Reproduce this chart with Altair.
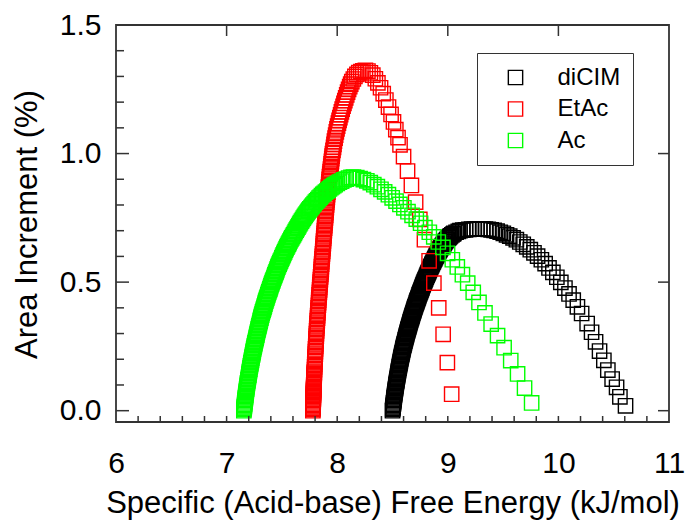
import altair as alt
import pandas as pd

# (free energy kJ/mol, area increment %) for each probe
dicim = [
    (8.500, 0.000), (8.502, 0.005), (8.503, 0.010), (8.505, 0.015), (8.506, 0.020), (8.508, 0.025),
    (8.509, 0.030), (8.511, 0.035), (8.512, 0.040), (8.514, 0.045), (8.515, 0.050),
    (8.517, 0.055), (8.518, 0.060), (8.520, 0.065), (8.522, 0.070), (8.524, 0.075), (8.525, 0.080),
    (8.527, 0.085), (8.529, 0.090), (8.530, 0.095), (8.532, 0.100), (8.534, 0.105), (8.536, 0.110),
    (8.538, 0.115), (8.540, 0.120), (8.542, 0.125), (8.544, 0.130), (8.546, 0.135), (8.548, 0.140),
    (8.550, 0.145), (8.552, 0.150), (8.554, 0.155), (8.556, 0.160), (8.559, 0.165), (8.561, 0.170),
    (8.563, 0.175), (8.565, 0.180), (8.567, 0.185), (8.570, 0.190), (8.572, 0.195), (8.574, 0.200),
    (8.577, 0.205), (8.579, 0.210), (8.582, 0.215), (8.584, 0.220), (8.587, 0.225), (8.590, 0.230),
    (8.592, 0.235), (8.595, 0.240), (8.597, 0.245), (8.600, 0.250), (8.603, 0.255), (8.606, 0.260),
    (8.609, 0.265), (8.612, 0.270), (8.615, 0.275), (8.618, 0.280), (8.621, 0.285), (8.624, 0.290),
    (8.627, 0.295), (8.630, 0.300), (8.633, 0.305), (8.636, 0.309), (8.639, 0.314), (8.642, 0.318),
    (8.645, 0.323), (8.648, 0.327), (8.651, 0.332), (8.654, 0.336), (8.657, 0.341), (8.660, 0.345),
    (8.663, 0.350), (8.666, 0.354), (8.670, 0.359), (8.673, 0.363), (8.676, 0.368), (8.679, 0.372),
    (8.683, 0.377), (8.686, 0.381), (8.690, 0.386), (8.693, 0.390), (8.696, 0.395), (8.700, 0.400),
    (8.703, 0.404), (8.707, 0.409), (8.711, 0.413), (8.715, 0.418), (8.718, 0.422), (8.722, 0.427),
    (8.725, 0.431), (8.730, 0.436), (8.733, 0.440), (8.737, 0.445), (8.741, 0.450), (8.745, 0.454),
    (8.749, 0.459), (8.753, 0.463), (8.757, 0.468), (8.761, 0.472), (8.765, 0.477), (8.768, 0.481),
    (8.773, 0.486), (8.777, 0.490), (8.781, 0.495), (8.786, 0.500), (8.790, 0.504), (8.795, 0.509),
    (8.799, 0.513), (8.804, 0.518), (8.808, 0.522), (8.813, 0.527), (8.817, 0.531), (8.822, 0.536),
    (8.826, 0.540), (8.831, 0.545), (8.836, 0.550), (8.841, 0.554), (8.846, 0.559), (8.851, 0.563),
    (8.856, 0.568), (8.860, 0.572), (8.866, 0.577), (8.871, 0.581), (8.877, 0.586), (8.882, 0.590),
    (8.887, 0.595), (8.893, 0.600), (8.898, 0.604), (8.903, 0.608), (8.909, 0.612), (8.914, 0.616),
    (8.919, 0.620), (8.924, 0.624), (8.928, 0.627), (8.932, 0.630), (8.938, 0.634), (8.943, 0.637),
    (8.950, 0.641), (8.954, 0.644), (8.961, 0.648), (8.966, 0.651), (8.972, 0.655), (8.977, 0.658),
    (8.980, 0.660), (8.989, 0.664), (8.996, 0.667), (9.005, 0.671), (9.011, 0.674), (9.018, 0.677),
    (9.025, 0.680), (9.037, 0.684), (9.049, 0.688), (9.055, 0.690), (9.075, 0.694), (9.095, 0.697),
    (9.110, 0.700), (9.135, 0.702), (9.160, 0.703), (9.190, 0.705), (9.215, 0.706), (9.240, 0.706),
    (9.265, 0.707), (9.290, 0.707),
    (9.315, 0.707), (9.340, 0.706), (9.366, 0.705), (9.392, 0.703), (9.419, 0.701), (9.446, 0.698),
    (9.474, 0.694), (9.502, 0.690), (9.531, 0.684), (9.560, 0.679), (9.590, 0.672), (9.620, 0.665),
    (9.651, 0.656), (9.682, 0.647), (9.714, 0.637), (9.746, 0.626), (9.779, 0.614), (9.812, 0.601),
    (9.846, 0.587), (9.880, 0.572), (9.915, 0.555), (9.950, 0.538), (9.986, 0.519), (10.022, 0.499),
    (10.059, 0.477), (10.096, 0.454), (10.134, 0.430), (10.172, 0.404), (10.210, 0.378),
    (10.260, 0.339), (10.300, 0.305), (10.336, 0.268), (10.372, 0.232), (10.411, 0.196),
    (10.447, 0.158), (10.486, 0.123), (10.526, 0.091), (10.556, 0.054), (10.607, 0.019),
]

etac = [
    (7.780, 0.000), (7.780, 0.005), (7.781, 0.010), (7.781, 0.015), (7.782, 0.020), (7.782, 0.025),
    (7.782, 0.030), (7.783, 0.035), (7.783, 0.040), (7.784, 0.045), (7.784, 0.050), (7.784, 0.055),
    (7.785, 0.060), (7.785, 0.065), (7.786, 0.070), (7.786, 0.075), (7.786, 0.080), (7.787, 0.085),
    (7.787, 0.090), (7.788, 0.095), (7.788, 0.100), (7.789, 0.105), (7.789, 0.110), (7.790, 0.115),
    (7.790, 0.120), (7.791, 0.125), (7.791, 0.130), (7.792, 0.135), (7.792, 0.140), (7.793, 0.145),
    (7.793, 0.150), (7.795, 0.160), (7.796, 0.170), (7.797, 0.180), (7.798, 0.190), (7.799, 0.200),
    (7.800, 0.210), (7.802, 0.220), (7.803, 0.230), (7.804, 0.240), (7.806, 0.250), (7.807, 0.260),
    (7.808, 0.270), (7.809, 0.280), (7.811, 0.290), (7.812, 0.300), (7.814, 0.310), (7.815, 0.320),
    (7.817, 0.330), (7.818, 0.340), (7.820, 0.350), (7.822, 0.360), (7.823, 0.370), (7.825, 0.380),
    (7.826, 0.390), (7.828, 0.400), (7.830, 0.410), (7.832, 0.420), (7.833, 0.430), (7.835, 0.440),
    (7.837, 0.450), (7.839, 0.460), (7.841, 0.470), (7.842, 0.480), (7.844, 0.490), (7.846, 0.500),
    (7.848, 0.510), (7.850, 0.520), (7.852, 0.530), (7.854, 0.540), (7.856, 0.550), (7.857, 0.560),
    (7.859, 0.570), (7.861, 0.580), (7.863, 0.590), (7.865, 0.600), (7.867, 0.610), (7.869, 0.620),
    (7.871, 0.630), (7.873, 0.640), (7.875, 0.650), (7.876, 0.660), (7.878, 0.670), (7.880, 0.680),
    (7.882, 0.690), (7.884, 0.700), (7.886, 0.710), (7.888, 0.720), (7.890, 0.730), (7.892, 0.740),
    (7.894, 0.750), (7.896, 0.760), (7.898, 0.770), (7.900, 0.780), (7.902, 0.790), (7.904, 0.800),
    (7.906, 0.810), (7.909, 0.820), (7.911, 0.830), (7.913, 0.840), (7.916, 0.850), (7.918, 0.860),
    (7.920, 0.870), (7.923, 0.880), (7.925, 0.890), (7.927, 0.900), (7.930, 0.910), (7.933, 0.920),
    (7.936, 0.930), (7.939, 0.940), (7.942, 0.950), (7.945, 0.960), (7.948, 0.970), (7.951, 0.980),
    (7.954, 0.990), (7.957, 1.000), (7.962, 1.012), (7.967, 1.024), (7.971, 1.036), (7.975, 1.048),
    (7.981, 1.060), (7.986, 1.072), (7.992, 1.084), (7.998, 1.096), (8.004, 1.107), (8.011, 1.118),
    (8.017, 1.129), (8.024, 1.140), (8.031, 1.151), (8.038, 1.162), (8.045, 1.173), (8.053, 1.184),
    (8.061, 1.195), (8.069, 1.206), (8.077, 1.217), (8.086, 1.228), (8.094, 1.239), (8.103, 1.250),
    (8.113, 1.260), (8.122, 1.270), (8.132, 1.280), (8.146, 1.290), (8.160, 1.300), (8.178, 1.308),
    (8.195, 1.315), (8.214, 1.319), (8.232, 1.322), (8.255, 1.324),
    (8.278, 1.321), (8.300, 1.314), (8.322, 1.305), (8.345, 1.291), (8.368, 1.275), (8.392, 1.256),
    (8.416, 1.233), (8.440, 1.208), (8.464, 1.181), (8.487, 1.152), (8.509, 1.123), (8.530, 1.093),
    (8.550, 1.062), (8.568, 1.034), (8.600, 0.988), (8.636, 0.932), (8.671, 0.876), (8.709, 0.811),
    (8.747, 0.744), (8.789, 0.665), (8.831, 0.583), (8.874, 0.496), (8.918, 0.400), (8.958, 0.297),
    (8.996, 0.187), (9.035, 0.064),
]

ac = [
    (7.156, 0.000), (7.157, 0.005), (7.159, 0.010), (7.160, 0.015), (7.162, 0.020), (7.163, 0.025),
    (7.164, 0.030), (7.166, 0.035), (7.167, 0.040), (7.169, 0.045), (7.170, 0.050), (7.172, 0.055),
    (7.173, 0.060), (7.175, 0.066), (7.177, 0.072), (7.179, 0.078), (7.181, 0.084), (7.183, 0.090),
    (7.185, 0.096), (7.187, 0.102), (7.189, 0.108), (7.192, 0.114), (7.194, 0.120), (7.196, 0.126),
    (7.199, 0.132), (7.201, 0.138), (7.203, 0.144), (7.205, 0.150), (7.208, 0.156), (7.210, 0.162),
    (7.212, 0.168), (7.215, 0.174), (7.218, 0.180), (7.220, 0.186), (7.223, 0.192), (7.226, 0.198),
    (7.228, 0.204), (7.231, 0.210), (7.234, 0.216), (7.237, 0.222), (7.239, 0.228), (7.242, 0.234),
    (7.245, 0.240), (7.248, 0.246), (7.251, 0.252), (7.254, 0.258), (7.257, 0.264), (7.260, 0.270),
    (7.264, 0.276), (7.267, 0.282), (7.270, 0.288), (7.273, 0.294), (7.276, 0.300), (7.279, 0.306),
    (7.283, 0.312), (7.286, 0.318), (7.289, 0.324), (7.293, 0.330), (7.296, 0.336), (7.300, 0.342),
    (7.303, 0.348), (7.306, 0.354), (7.310, 0.360), (7.313, 0.366), (7.317, 0.372), (7.321, 0.378),
    (7.325, 0.384), (7.330, 0.390), (7.334, 0.396), (7.338, 0.402), (7.342, 0.408), (7.346, 0.414),
    (7.350, 0.420), (7.354, 0.426), (7.359, 0.432), (7.363, 0.438), (7.368, 0.444), (7.373, 0.450),
    (7.377, 0.456), (7.382, 0.462), (7.387, 0.468), (7.392, 0.474), (7.396, 0.480), (7.401, 0.486),
    (7.406, 0.492), (7.411, 0.498), (7.416, 0.504), (7.421, 0.510), (7.427, 0.516), (7.432, 0.522),
    (7.437, 0.528), (7.442, 0.534), (7.448, 0.540), (7.453, 0.546), (7.458, 0.552), (7.463, 0.558),
    (7.469, 0.564), (7.475, 0.570), (7.481, 0.576), (7.487, 0.582), (7.494, 0.588), (7.500, 0.594),
    (7.506, 0.600), (7.512, 0.606), (7.518, 0.612), (7.525, 0.618), (7.531, 0.624), (7.538, 0.630),
    (7.545, 0.636), (7.552, 0.642), (7.559, 0.648), (7.566, 0.654), (7.573, 0.660), (7.581, 0.666),
    (7.589, 0.672), (7.597, 0.678), (7.605, 0.684), (7.613, 0.690), (7.621, 0.696), (7.629, 0.702),
    (7.637, 0.708), (7.645, 0.714), (7.653, 0.720), (7.661, 0.726), (7.668, 0.731), (7.677, 0.737),
    (7.686, 0.743), (7.694, 0.749), (7.703, 0.755), (7.711, 0.760), (7.719, 0.765), (7.728, 0.770),
    (7.736, 0.775), (7.744, 0.780), (7.753, 0.785), (7.763, 0.790), (7.772, 0.795), (7.781, 0.800),
    (7.792, 0.805), (7.803, 0.811), (7.814, 0.816), (7.825, 0.821), (7.836, 0.827), (7.847, 0.831),
    (7.858, 0.836), (7.870, 0.841), (7.882, 0.845), (7.894, 0.850), (7.906, 0.854), (7.918, 0.858),
    (7.930, 0.863), (7.943, 0.867), (7.956, 0.871), (7.969, 0.875), (7.982, 0.879), (8.001, 0.884),
    (8.020, 0.889), (8.040, 0.893), (8.060, 0.898), (8.081, 0.901), (8.103, 0.905), (8.125, 0.907),
    (8.147, 0.908), (8.177, 0.906), (8.207, 0.903), (8.237, 0.899), (8.268, 0.894),
    (8.299, 0.887), (8.331, 0.879), (8.363, 0.871), (8.396, 0.861), (8.429, 0.851), (8.463, 0.840),
    (8.497, 0.828), (8.532, 0.815), (8.567, 0.802), (8.603, 0.789), (8.640, 0.774), (8.677, 0.760),
    (8.715, 0.745), (8.754, 0.729), (8.793, 0.712), (8.833, 0.694), (8.873, 0.676), (8.914, 0.656),
    (8.956, 0.635), (8.998, 0.612), (9.041, 0.587), (9.086, 0.559), (9.132, 0.529), (9.180, 0.496),
    (9.230, 0.460), (9.282, 0.421), (9.336, 0.380), (9.392, 0.337), (9.450, 0.292), (9.509, 0.245),
    (9.569, 0.195), (9.631, 0.143), (9.694, 0.088), (9.758, 0.030),
]

series_names = ["diCIM", "EtAc", "Ac"]
series_colors = ["#000000", "#ff0000", "#00ff00"]

x_labels = [6, 7, 8, 9, 10, 11]
y_labels = [0.0, 0.5, 1.0, 1.5]
left_minor_ticks = [0.1, 0.2, 0.3, 0.4, 0.6, 0.7, 0.8, 0.9, 1.1, 1.2, 1.3, 1.4]
left_major_ticks = [0.0, 0.5, 1.0]
right_ticks = [0.0, 0.5, 1.0]
top_ticks = [7, 8, 9, 10]
bottom_ticks = [6.2, 6.4, 6.6, 6.8, 7.0, 7.2, 7.4, 7.6, 7.8, 8.0, 8.2, 8.4,
                8.6, 8.8, 9.0, 9.2, 9.4, 9.6, 9.8, 10.0, 10.2, 10.4, 10.6, 10.8]

rows = []
for name, pts in zip(series_names, [dicim, etac, ac]):
    for e, a in pts:
        rows.append({"energy": e, "area": a, "sample": name})
points_df = pd.DataFrame(rows)

W, H = 553, 397
FONT = "Liberation Sans"
FRAME = "#333333"
X_TITLE = "Specific (Acid-base) Free Energy (kJ/mol)"
Y_TITLE = "Area Increment (%)"

x_scale = alt.Scale(domain=[6, 11], nice=False, zero=False)
y_scale = alt.Scale(domain=[-0.044, 1.5], nice=False, zero=False)

x_axis = alt.Axis(values=x_labels, format="d", ticks=False, tickSize=0,
                  domain=False, grid=False, labelFlush=False, labelOverlap=False,
                  labelFont=FONT, labelFontSize=30, labelColor="#000000",
                  labelBaseline="alphabetic", labelPadding=50,
                  titleFont=FONT, titleFontSize=31, titleFontWeight="normal",
                  titleColor="#000000", titleBaseline="alphabetic", titleY=90)
y_axis = alt.Axis(values=y_labels, format=".1f", ticks=False, tickSize=0,
                  domain=False, grid=False, labelFlush=False, labelOverlap=False,
                  labelFont=FONT, labelFontSize=30, labelColor="#000000",
                  labelPadding=15,
                  titleFont=FONT, titleFontSize=31, titleFontWeight="normal",
                  titleColor="#000000", titleAngle=270, titleAlign="center",
                  titleBaseline="alphabetic", titleX=-80, titleY=199)

points = alt.Chart(points_df).mark_point(
    shape="square", filled=False, size=205, strokeWidth=1.4, opacity=1
).encode(
    x=alt.X("energy:Q", scale=x_scale, title=X_TITLE, axis=x_axis),
    y=alt.Y("area:Q", scale=y_scale, title=Y_TITLE, axis=y_axis),
    color=alt.Color("sample:N",
                    scale=alt.Scale(domain=series_names, range=series_colors),
                    legend=alt.Legend(title=None, orient="none", legendX=361, legendY=28,
                                      padding=12.5, symbolOffset=14, labelOffset=30,
                                      rowPadding=7.5, labelFont=FONT, labelFontSize=24,
                                      labelColor="#000000", symbolType="square",
                                      symbolSize=205, symbolStrokeWidth=1.4,
                                      strokeColor=FRAME, fillColor="#ffffff")),
)


def hticks(values, x0, x1):
    return alt.Chart(pd.DataFrame({"area": values})).mark_rule(
        color=FRAME, strokeWidth=1.5
    ).encode(y=alt.Y("area:Q", scale=y_scale, title=Y_TITLE, axis=y_axis),
             x=alt.value(x0), x2=alt.value(x1))


def vticks(values, y0, y1):
    return alt.Chart(pd.DataFrame({"energy": values})).mark_rule(
        color=FRAME, strokeWidth=1.5
    ).encode(x=alt.X("energy:Q", scale=x_scale, title=X_TITLE, axis=x_axis),
             y=alt.value(y0), y2=alt.value(y1))


chart = alt.layer(
    points,
    hticks(left_minor_ticks, 0, 8),
    hticks(left_major_ticks, 0, 13),
    hticks(right_ticks, W - 11, W),
    vticks(top_ticks, 0, 11),
    vticks(bottom_ticks, H - 6, H),
).properties(
    width=W, height=H,
    padding={"left": 116, "top": 25, "right": 17, "bottom": 98},
    autosize=alt.AutoSizeParams(type="none"),
    background="#ffffff",
).configure_view(stroke=FRAME, strokeWidth=1.8)

chart.save("out.html", embed_options={"renderer": "svg", "actions": False})
